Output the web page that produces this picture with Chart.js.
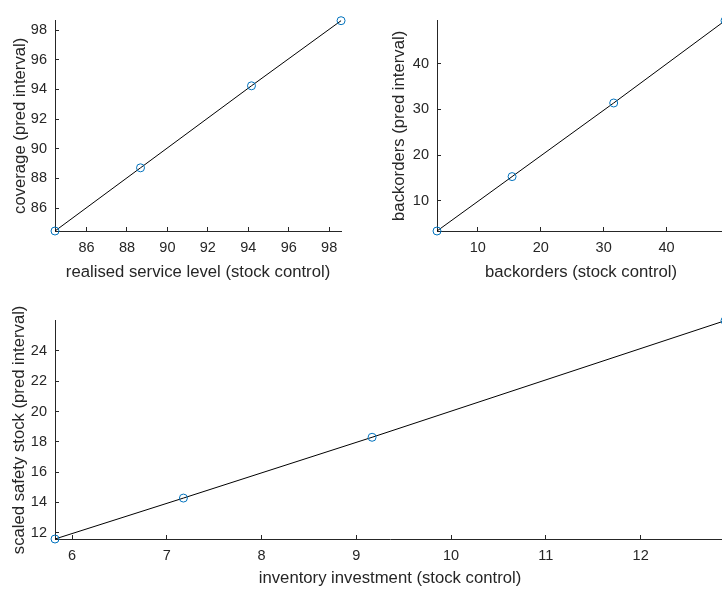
<!DOCTYPE html>
<html>
<head>
<meta charset="utf-8">
<script src="https://cdn.jsdelivr.net/npm/chart.js@4.4.1/dist/chart.umd.min.js"></script>
<style>
html, body { margin: 0; padding: 0; background: #fff; overflow: hidden; width: 722px; height: 591px; }
canvas { position: absolute; }
</style>
</head>
<body>
<canvas id="svcChart" width="350" height="290" style="left:0;top:0"></canvas>
<canvas id="backChart" width="370" height="290" style="left:361px;top:0"></canvas>
<canvas id="invChart" width="730" height="291" style="left:0;top:300px"></canvas>
<script>
// service level panel
const svcStock = [84.44, 88.67, 94.16, 98.59];
const svcPred = [84.45, 88.71, 94.24, 98.63];
const svcXTicks = [86, 88, 90, 92, 94, 96, 98];
const svcYTicks = [86, 88, 90, 92, 94, 96, 98];

// backorders panel
const backStock = [3.5, 15.44, 31.6, 49.3];
const backPred = [3.4, 15.3, 31.4, 49.4];
const backXTicks = [10, 20, 30, 40];
const backYTicks = [10, 20, 30, 40];

// inventory panel
const invStock = [5.82, 7.175, 9.166, 12.89];
const invPred = [11.59, 14.29, 18.3, 25.99];
const invXTicks = [6, 7, 8, 9, 10, 11, 12];
const invYTicks = [12, 14, 16, 18, 20, 22, 24];

const ink = '#262626';
const family = '"Liberation Sans", Arial, Helvetica, sans-serif';

function drawPanel(id, xs, ys, xTicks, yTicks, xTitle, yTitle, box) {
    const points = xs.map((x, i) => ({ x: x, y: ys[i] }));
    return new Chart(document.getElementById(id), {
        type: 'scatter',
        data: {
            datasets: [{
                data: points,
                showLine: true,
                borderColor: '#000',
                borderWidth: 1,
                pointRadius: 4,
                pointBorderWidth: 1,
                pointBorderColor: '#0072BD',
                pointBackgroundColor: 'rgba(0,0,0,0)',
                clip: false
            }]
        },
        options: {
            responsive: false,
            animation: false,
            events: [],
            layout: { padding: box.pad },
            plugins: { legend: { display: false }, tooltip: { enabled: false } },
            scales: {
                x: {
                    type: 'linear',
                    position: 'bottom',
                    min: Math.min(...xs),
                    max: Math.max(...xs),
                    afterBuildTicks: s => { s.ticks = xTicks.map(v => ({ value: v })); },
                    afterFit: s => { s.height = box.xh; },
                    grid: { drawOnChartArea: false, tickLength: -4, color: ink },
                    border: { color: ink, width: 1 },
                    ticks: { color: ink, font: { family: family, size: 14.5 }, padding: 12.6, autoSkip: false, maxRotation: 0 },
                    title: { display: true, text: xTitle, color: ink, font: { family: family, size: 16.7 }, padding: { top: 0, bottom: box.xtPad } }
                },
                y: {
                    type: 'linear',
                    position: 'left',
                    min: Math.min(...ys),
                    max: Math.max(...ys),
                    afterBuildTicks: s => { s.ticks = yTicks.map(v => ({ value: v })); },
                    afterFit: s => { s.width = box.yw; },
                    grid: { drawOnChartArea: false, tickLength: -4, color: ink },
                    border: { color: ink, width: 1 },
                    ticks: { color: ink, font: { family: family, size: 14.5 }, padding: 12, autoSkip: false },
                    title: { display: true, text: yTitle, color: ink, font: { family: family, size: 16.7 }, padding: { top: box.ytPad, bottom: 0 } }
                }
            }
        }
    });
}

drawPanel('svcChart', svcStock, svcPred, svcXTicks, svcYTicks,
    'realised service level (stock control)', 'coverage (pred interval)',
    { pad: { top: 10, right: 5, bottom: 0, left: 0 }, xh: 59, yw: 55, xtPad: 7.5, ytPad: 10 });

drawPanel('backChart', backStock, backPred, backXTicks, backYTicks,
    'backorders (stock control)', 'backorders (pred interval)',
    { pad: { top: 10, right: 6, bottom: 0, left: 0 }, xh: 59, yw: 76, xtPad: 7.5, ytPad: 28.8 });

drawPanel('invChart', invStock, invPred, invXTicks, invYTicks,
    'inventory investment (stock control)', 'scaled safety stock (pred interval)',
    { pad: { top: 17, right: 5, bottom: 0, left: 0 }, xh: 52, yw: 55, xtPad: 3, ytPad: 9.2 });
</script>
</body>
</html>
